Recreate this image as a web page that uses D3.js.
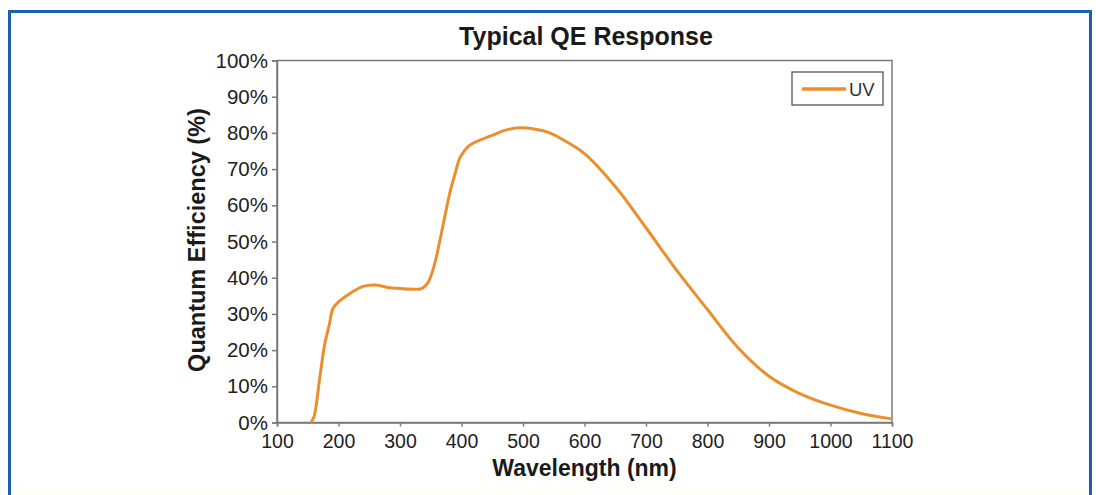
<!DOCTYPE html>
<html lang="en">
<head>
    <meta charset="UTF-8">
    <title>Typical QE Response</title>
    <script src="https://d3js.org/d3.v7.min.js"></script>
    <style>
        body { margin: 0; background: #fff; }
        svg { display: block; font-family: "Liberation Sans", Arial, sans-serif; }
    </style>
</head>
<body>
    <script>
    // values
    const wavelength = [155, 160, 170, 178, 185, 191, 200, 220, 240, 260, 280, 300, 320, 335, 345, 355, 365, 381, 390, 398, 414, 430, 451, 470, 495, 520, 540, 560, 600, 650, 700, 750, 800, 850, 900, 950, 1000, 1050, 1100];
    const qe = [0, 1.5, 13, 22, 27, 31.5, 33.3, 35.8, 37.6, 38, 37.3, 37, 36.8, 37, 38.5, 43, 50.4, 63.4, 69, 73.3, 76.7, 78, 79.4, 80.7, 81.4, 81, 80.2, 78.6, 74.3, 65.2, 53.8, 42, 31.2, 20.6, 12.8, 8, 4.8, 2.5, 1];
    const xTicks = [100, 200, 300, 400, 500, 600, 700, 800, 900, 1000, 1100];
    const yTicks = [0, 10, 20, 30, 40, 50, 60, 70, 80, 90, 100];
    const seriesName = "UV";

    const data = wavelength.map((w, i) => ({ w: w, q: qe[i] }));

    const W = 1096, H = 495;
    const plotLeft = 277, plotRight = 892, plotTop = 60.5, plotBottom = 422.5;

    const svg = d3.select("body").append("svg")
        .attr("width", W)
        .attr("height", H);

    // faint strip under the cut-off bottom edge
    svg.append("rect")
        .attr("x", 0).attr("y", 483)
        .attr("width", W).attr("height", H - 483)
        .attr("fill", "#fefefa");

    // blue frame
    svg.append("rect")
        .attr("x", 9.5).attr("y", 11.5)
        .attr("width", 1081).attr("height", 600)
        .attr("fill", "none")
        .attr("stroke", "#1d5fad")
        .attr("stroke-width", 3);

    const x = d3.scaleLinear().domain([100, 1100]).range([plotLeft, plotRight]);
    const y = d3.scaleLinear().domain([0, 100]).range([plotBottom, plotTop]);

    // plot box
    svg.append("rect")
        .attr("x", plotLeft).attr("y", plotTop)
        .attr("width", plotRight - plotLeft).attr("height", plotBottom - plotTop)
        .attr("fill", "none")
        .attr("stroke", "#7a7a7a")
        .attr("stroke-width", 1.5);

    // axes
    const xAxis = svg.append("g")
        .attr("transform", `translate(0,${plotBottom})`)
        .call(d3.axisBottom(x).tickValues(xTicks).tickSize(4).tickPadding(8).tickFormat(d3.format("d")));
    const yAxis = svg.append("g")
        .attr("transform", `translate(${plotLeft},0)`)
        .call(d3.axisLeft(y).tickValues(yTicks).tickSize(5).tickPadding(4).tickFormat(d => d + "%"));

    [xAxis, yAxis].forEach(g => {
        g.select(".domain").attr("stroke", "#7a7a7a").attr("stroke-width", 1.5);
        g.selectAll(".tick line").attr("stroke", "#7a7a7a").attr("stroke-width", 1.5);
        g.selectAll(".tick text")
            .attr("fill", "#222")
            .style("font-size", "19.5px")
            .style("font-family", "'Liberation Sans', Arial, sans-serif");
    });
    yAxis.selectAll(".tick text").style("font-size", "20.5px");

    // curve
    const line = d3.line()
        .x(d => x(d.w))
        .y(d => y(d.q))
        .curve(d3.curveCatmullRom.alpha(0.5));

    svg.append("path")
        .datum(data)
        .attr("d", line)
        .attr("fill", "none")
        .attr("stroke", "#ea8f2c")
        .attr("stroke-width", 3)
        .attr("stroke-linejoin", "round");

    // legend
    svg.append("rect")
        .attr("x", 792).attr("y", 72)
        .attr("width", 91).attr("height", 33)
        .attr("fill", "#fff")
        .attr("stroke", "#555")
        .attr("stroke-width", 1.3);
    svg.append("line")
        .attr("x1", 802).attr("x2", 846)
        .attr("y1", 89).attr("y2", 89)
        .attr("stroke", "#ea8f2c")
        .attr("stroke-width", 3.5);
    svg.append("text")
        .attr("x", 849).attr("y", 96)
        .attr("fill", "#333")
        .style("font-size", "18.5px")
        .text(seriesName);

    // titles
    svg.append("text")
        .attr("x", 586).attr("y", 45)
        .attr("text-anchor", "middle")
        .attr("font-weight", "bold")
        .attr("fill", "#1a1a1a")
        .style("font-size", "25px")
        .text("Typical QE Response");

    svg.append("text")
        .attr("transform", "translate(205,240) rotate(-90)")
        .attr("text-anchor", "middle")
        .attr("font-weight", "bold")
        .attr("fill", "#1a1a1a")
        .style("font-size", "23.5px")
        .text("Quantum Efficiency (%)");

    // x title is cut off at the bottom of the picture
    svg.append("clipPath").attr("id", "cut")
        .append("rect").attr("x", 0).attr("y", 0).attr("width", W).attr("height", 482);
    svg.append("text")
        .attr("clip-path", "url(#cut)")
        .attr("x", 584.5).attr("y", 476)
        .attr("text-anchor", "middle")
        .attr("font-weight", "bold")
        .attr("fill", "#1a1a1a")
        .style("font-size", "23px")
        .text("Wavelength (nm)");
    </script>
</body>
</html>
